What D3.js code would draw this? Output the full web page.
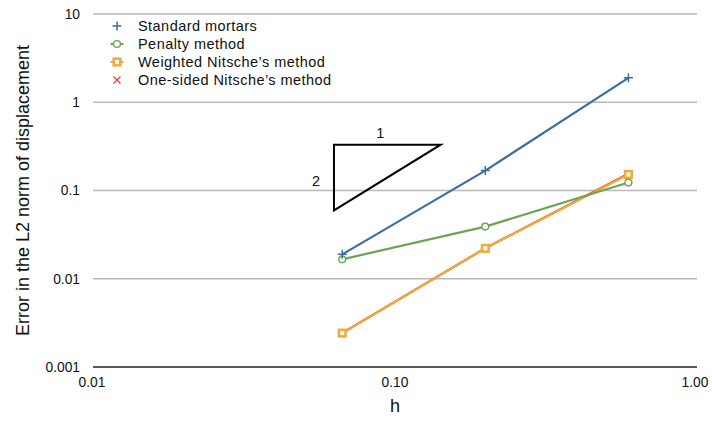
<!DOCTYPE html>
<html>
<head>
<meta charset="utf-8">
<script src="https://cdn.jsdelivr.net/npm/d3@7/dist/d3.min.js"></script>
<style>
  html, body { margin: 0; padding: 0; background: #fff; }
  svg { display: block; font-family: "Liberation Sans", Arial, Helvetica, sans-serif; }
</style>
</head>
<body>
<svg id="chart" width="712" height="426"></svg>
<script>
// Mesh sizes and L2 displacement errors for each coupling method
const h = [0.0667, 0.2, 0.6];
const standardMortars = [0.0189, 0.168, 1.89];
const penaltyMethod = [0.0166, 0.039, 0.123];
const weightedNitsche = [0.00242, 0.0221, 0.152];
const oneSidedNitsche = [0.00243, 0.0222, 0.155];

const xTicks = [0.01, 0.1, 1];
const xTickLabels = ["0.01", "0.10", "1.00"];
const yTicks = [0.001, 0.01, 0.1, 1, 10];
const yTickLabels = ["0.001", "0.01", "0.1", "1", "10"];

// Slope triangle (rise 2 over run 1 in log-log)
const triX = [0.0626, 0.142];
const triY = [0.0594, 0.331];

const series = [
  { name: "Standard mortars", values: standardMortars, color: "#3b6ea5", marker: "plus" },
  { name: "Penalty method", values: penaltyMethod, color: "#6aa553", marker: "circle" },
  { name: "Weighted Nitsche\u2019s method", values: weightedNitsche, color: "#f1ab3c", marker: "square" },
  { name: "One-sided Nitsche\u2019s method", values: oneSidedNitsche, color: "#e0403a", marker: "cross" }
];

const svg = d3.select("#chart");
const margin = { left: 95, right: 17, top: 14, bottom: 59 };
const W = 712, H = 426;

const x = d3.scaleLog().domain([0.01, 1]).range([margin.left, W - margin.right]);
const y = d3.scaleLog().domain([0.001, 10]).range([H - margin.bottom, margin.top]);

// Horizontal grid lines
svg.append("g")
  .selectAll("line")
  .data(yTicks.filter(d => d > 0.001))
  .join("line")
  .attr("x1", x(0.01) - 2).attr("x2", x(1) + 2)
  .attr("y1", d => y(d)).attr("y2", d => y(d))
  .attr("stroke", "#b9b9b9").attr("stroke-width", 1.3);

// Y tick labels
svg.append("g")
  .selectAll("text")
  .data(yTicks)
  .join("text")
  .attr("x", x(0.01) - 15)
  .attr("y", d => y(d))
  .attr("dy", "0.35em")
  .attr("text-anchor", "end")
  .attr("font-size", 13.8)
  .attr("fill", "#111")
  .text((d, i) => yTickLabels[i]);

// Bottom axis line
svg.append("line")
  .attr("x1", x(0.01) - 2).attr("x2", x(1) + 2)
  .attr("y1", y(0.001)).attr("y2", y(0.001))
  .attr("stroke", "#222").attr("stroke-width", 1.3);

// X tick labels
svg.append("g")
  .selectAll("text")
  .data(xTicks)
  .join("text")
  .attr("x", (d, i) => x(d) - (i === 0 ? 3 : 0))
  .attr("y", y(0.001) + 20)
  .attr("text-anchor", "middle")
  .attr("font-size", 13.8)
  .attr("fill", "#111")
  .text((d, i) => xTickLabels[i]);

// Axis titles
svg.append("text")
  .attr("x", x(0.1)).attr("y", 412)
  .attr("text-anchor", "middle")
  .attr("font-size", 18)
  .attr("fill", "#111")
  .text("h");

svg.append("text")
  .attr("transform", `translate(29, ${(y(10) + y(0.001)) / 2}) rotate(-90)`)
  .attr("text-anchor", "middle")
  .attr("font-size", 18)
  .attr("fill", "#111")
  .text("Error in the L2 norm of displacement");

// Slope triangle
svg.append("path")
  .attr("d", `M${x(triX[0])},${y(triY[1])} L${x(triX[1])},${y(triY[1])} L${x(triX[0])},${y(triY[0])} Z`)
  .attr("fill", "none").attr("stroke", "#000").attr("stroke-width", 2);
svg.append("text")
  .attr("x", (x(triX[0]) + x(triX[1])) / 2 - 7).attr("y", y(triY[1]) - 7)
  .attr("text-anchor", "middle").attr("font-size", 14.5).attr("fill", "#111")
  .text("1");
svg.append("text")
  .attr("x", x(triX[0]) - 18).attr("y", (y(triY[0]) + y(triY[1])) / 2 + 8)
  .attr("text-anchor", "middle").attr("font-size", 14.5).attr("fill", "#111")
  .text("2");

// Marker drawing helper
function drawMarker(g, kind, cx, cy, color) {
  if (kind === "plus") {
    g.append("path").attr("d", `M${cx - 4.5},${cy} H${cx + 4.5} M${cx},${cy - 4.5} V${cy + 4.5}`)
      .attr("stroke", color).attr("stroke-width", 1.5).attr("fill", "none");
  } else if (kind === "circle") {
    g.append("circle").attr("cx", cx).attr("cy", cy).attr("r", 3.4)
      .attr("fill", "#fff").attr("stroke", color).attr("stroke-width", 1.4);
  } else if (kind === "square") {
    g.append("rect").attr("x", cx - 3.3).attr("y", cy - 3.3).attr("width", 6.6).attr("height", 6.6)
      .attr("fill", "#fff").attr("stroke", color).attr("stroke-width", 2.6);
  } else if (kind === "cross") {
    g.append("path").attr("d", `M${cx - 3.5},${cy - 3.5} L${cx + 3.5},${cy + 3.5} M${cx - 3.5},${cy + 3.5} L${cx + 3.5},${cy - 3.5}`)
      .attr("stroke", color).attr("stroke-width", 1.3).attr("fill", "none");
  }
}

// Series lines and markers (drawn back to front so the weighted series sits on top)
const line = d3.line().x(d => x(d[0])).y(d => y(d[1]));
const drawOrder = [3, 2, 1, 0];
drawOrder.forEach(i => {
  const s = series[i];
  const g = svg.append("g");
  const pts = h.map((hv, j) => [hv, s.values[j]]);
  g.append("path").attr("d", line(pts))
    .attr("fill", "none").attr("stroke", s.color).attr("stroke-width", 2.2);
  pts.forEach(p => drawMarker(g, s.marker, x(p[0]), y(p[1]), s.color));
});

// Legend
const legend = svg.append("g");
series.forEach((s, i) => {
  const ly = 26 + i * 18;
  if (s.marker === "circle" || s.marker === "square") {
    legend.append("line")
      .attr("x1", 110.5).attr("x2", 123.5).attr("y1", ly).attr("y2", ly)
      .attr("stroke", s.color).attr("stroke-width", 2);
  }
  drawMarker(legend, s.marker, 117, ly, s.color);
  legend.append("text")
    .attr("x", 138).attr("y", ly).attr("dy", "0.36em")
    .attr("font-size", 14.5).attr("letter-spacing", "0.45px").attr("fill", "#111")
    .text(s.name);
});
</script>
</body>
</html>
